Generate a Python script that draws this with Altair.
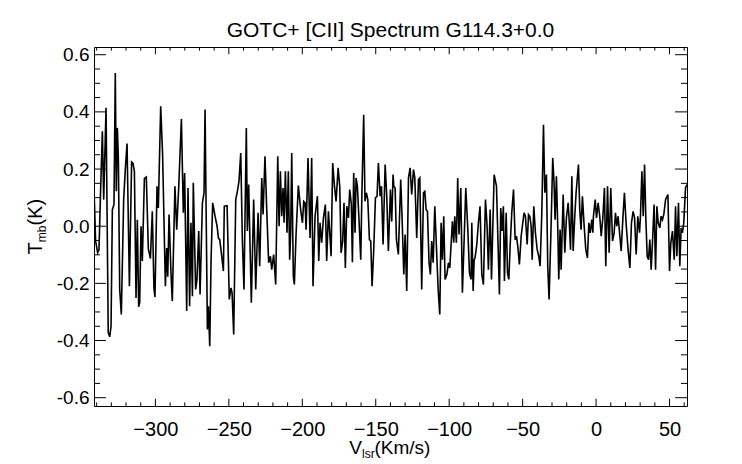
import altair as alt
import pandas as pd

# ---- data ----
vlsr = [
    -341.6, -340.7, -339.3, -338.4, -337.3, -336.1, -335.2, -333.6, -332.1, -331.1,
    -330.2, -329.3, -328.2, -327.3, -326.6, -325.9, -325.2, -324.3, -323.2, -321.6,
    -320.5, -319.3, -317.7, -316.2, -315.3, -314.3, -313.2, -312.3, -311.4, -310.7,
    -309.8, -308.9, -307.5, -306.2, -304.8, -303.4, -302.1, -301.0, -300.3, -298.9,
    -298.0, -296.4, -295.1, -293.2, -292.3, -291.6, -290.7, -289.4, -288.5, -286.7,
    -285.5, -284.1, -282.3, -281.0, -280.1, -278.7, -277.8, -276.7, -275.8, -274.8,
    -274.2,
    -272.6, -271.7, -270.5, -269.6, -268.0, -266.9, -266.2, -264.6, -263.9, -263.0,
    -262.1, -261.0, -259.4, -258.0, -257.1, -256.2, -255.1, -253.7, -253.1, -251.2,
    -249.7, -248.5, -247.8, -246.7, -245.3, -244.2, -243.1, -241.9, -240.8, -239.7,
    -238.1, -237.4, -236.5, -234.7, -233.1, -231.7, -230.1, -229.0, -227.6, -226.7,
    -225.4, -224.2, -222.9, -221.7, -220.8, -219.5, -218.1, -216.7, -215.8, -214.9,
    -214.0, -213.1, -212.4, -211.5, -210.4, -209.5, -208.6, -207.9, -207.2, -206.1,
    -205.4, -204.2, -202.7, -201.1, -199.9, -199.0, -198.1, -197.4, -196.1, -194.7,
    -193.6, -192.7, -191.3, -189.7, -188.8, -187.9, -186.8, -185.6, -184.3, -183.4,
    -182.2, -181.3, -180.4, -179.3, -178.1, -177.0, -175.6, -174.5, -173.6, -172.5,
    -171.6, -170.7, -169.7, -168.6, -167.7, -166.6, -165.9, -165.0, -164.1, -163.4,
    -162.5, -161.3, -160.2, -159.5, -158.2, -157.3, -156.4, -155.4, -154.3, -153.4,
    -152.5, -151.4, -150.2, -149.1, -148.2, -147.0, -146.1, -145.0, -143.6, -142.5,
    -141.4, -140.0, -139.1, -138.2,
    -137.7, -136.8, -135.9, -134.6, -133.0, -132.1, -130.9, -130.0, -128.9, -127.7,
    -126.6, -125.5, -124.3, -123.4, -122.1, -120.9, -120.0, -118.7, -117.5, -116.6,
    -115.7, -114.8, -113.7, -112.8, -111.9, -110.9, -109.8, -108.7, -107.5, -106.4,
    -105.5, -104.6, -103.7, -102.8, -101.6, -100.5, -99.6, -98.7, -97.8, -96.9,
    -96.2, -95.1, -94.2, -93.3, -92.1, -91.0, -89.6, -88.7, -87.3, -86.2,
    -85.1, -84.6, -83.7, -83.0, -82.4, -81.2, -80.1, -79.0, -77.8, -76.7,
    -75.3, -74.2, -73.3, -72.1, -71.2, -69.4,
    -67.8, -66.7, -65.8, -64.9, -64.0, -63.1, -62.4, -61.2, -60.3, -59.4,
    -58.5, -57.4, -56.2, -55.1, -54.2, -53.3, -52.2, -51.0, -49.9, -49.0,
    -48.1, -46.9, -46.0, -45.1, -44.2, -43.5, -42.4, -41.3, -40.1, -39.0,
    -38.1, -37.0, -35.8, -34.9, -33.8, -32.9, -32.0, -30.8, -29.5, -28.6,
    -27.9, -27.0, -26.1, -25.4, -24.5, -23.8, -22.4, -21.3, -20.2, -19.0,
    -18.1, -17.4, -16.5, -15.6, -14.5, -13.6, -12.0, -11.1, -10.2, -9.3,
    -8.1, -7.0, -5.9, -4.9, -4.0, -2.9, -2.2,
    -1.8, -0.6, 0.3, 1.4, 2.5, 3.5, 4.6, 5.7, 6.6, 7.8,
    8.9, 10.0, 11.2, 12.3, 13.2, 14.1, 15.0, 16.2, 17.1, 18.2,
    19.3, 20.5, 21.8, 23.0, 24.1, 25.2, 26.2, 27.3, 28.4, 29.6,
    30.2, 31.2, 32.1, 33.0, 33.9, 34.8, 35.7, 36.6, 37.5, 38.4,
    39.5, 40.5, 41.4, 42.3, 43.4, 44.3, 45.2, 46.1, 47.3, 48.9,
    50.0, 50.9, 52.0, 53.2, 54.1, 55.0, 56.1, 57.0, 57.9, 58.8,
    59.7, 60.9, 61.8,
]
tmb = [
    0.099, -0.052, -0.093, -0.082, 0.128, 0.332, 0.093, 0.414, -0.373, -0.387,
    -0.350, 0.058, 0.076, 0.536, 0.122, 0.344, 0.233, -0.221, -0.309, 0.093,
    0.198, 0.289, -0.210, 0.225, 0.221, 0.192, -0.251, 0.023, -0.282, -0.268,
    0.000, -0.122, 0.167, 0.172, -0.079, -0.113, 0.052, -0.216, -0.248, 0.140,
    0.064, 0.420, 0.251, -0.210, -0.076, -0.177, 0.041, -0.163, -0.262, 0.140,
    -0.012, 0.140, 0.375, 0.047, 0.186, -0.297, 0.134, -0.280, 0.012, -0.245,
    0.152,
    -0.221, -0.186, -0.017, -0.239, 0.082, 0.117, 0.408, -0.361, -0.280, -0.420,
    -0.117, 0.082, 0.035, 0.000, -0.041, -0.047, -0.093, -0.157, 0.070, 0.072,
    -0.256, -0.216, -0.233, -0.379, 0.093, 0.122, 0.157, 0.256, -0.047, -0.221,
    0.344, -0.017, 0.146, -0.268, 0.093, -0.221, 0.047, -0.140, 0.169, 0.041,
    0.245, 0.058, -0.128, -0.105, -0.152, -0.099, -0.204, 0.245, 0.000, 0.192,
    0.035, 0.134, 0.012, 0.192, -0.023, 0.192, -0.117, -0.023, 0.256, -0.175,
    -0.204, -0.023, 0.142, 0.058, 0.012, 0.087, 0.082, -0.012, 0.239, -0.041,
    0.239, -0.210, 0.035, 0.105, -0.122, 0.012, -0.058, 0.029, 0.076, -0.122,
    0.052, -0.023, -0.105, 0.221, 0.140, 0.087, 0.204, 0.140, -0.093, -0.052,
    0.082, -0.146, 0.070, 0.029, 0.128, 0.076, -0.126, 0.186, -0.023, 0.169,
    0.140, 0.012, -0.117, 0.093, 0.390, 0.087, 0.117, 0.093, -0.047, -0.052,
    -0.210, -0.087, 0.099, 0.105, 0.221, 0.105, 0.140, -0.064, 0.216, 0.105,
    -0.087, 0.128, 0.017, 0.181,
    0.140, 0.134, -0.047, -0.099, 0.163, 0.035, -0.169, -0.029, -0.227, 0.169,
    0.204, 0.111, 0.198, 0.169, -0.041, 0.163, 0.169, -0.221, 0.117, 0.122,
    0.058, 0.052, -0.128, -0.169, -0.052, -0.128, 0.070, -0.070, -0.221, -0.309,
    0.012, -0.117, 0.035, -0.186, -0.169, -0.128, -0.146, -0.064, 0.017, -0.058,
    0.035, -0.058, 0.169, -0.029, 0.134, -0.233, -0.012, 0.134, -0.012, -0.163,
    -0.186, 0.012, -0.227, -0.117, -0.111, -0.064, 0.012, 0.070, -0.169, -0.204,
    0.093, 0.000, -0.152, 0.058, -0.186, 0.180,
    0.140, -0.070, -0.239, 0.064, -0.017, 0.070, -0.192, 0.047, -0.163, -0.186,
    -0.070, 0.047, 0.128, -0.047, -0.035, -0.070, -0.134, -0.035, 0.012, 0.047,
    0.035, -0.064, 0.041, 0.035, 0.000, -0.117, 0.070, -0.023, -0.082, -0.105,
    -0.140, 0.035, 0.355, 0.117, 0.181, -0.140, -0.256, -0.035, 0.239, 0.152,
    0.023, 0.175, 0.000, -0.186, -0.012, -0.152, 0.111, -0.093, 0.029, 0.082,
    0.000, -0.082, 0.175, -0.087, 0.035, 0.117, 0.216, 0.058, -0.012, 0.105,
    0.000, -0.082, -0.111, 0.012, -0.023, 0.023, -0.023,
    0.035, 0.093, 0.029, 0.082, 0.035, -0.035, 0.029, 0.134, -0.140, 0.140,
    -0.093, 0.134, -0.052, -0.023, 0.047, 0.000, 0.035, -0.035, -0.087, 0.023,
    0.117, 0.006, -0.082, -0.146, 0.012, 0.052, 0.029, -0.099, 0.035, -0.023,
    0.035, 0.192, 0.035, 0.216, 0.023, -0.105, -0.117, -0.047, -0.152, -0.058,
    0.076, -0.152, 0.070, 0.012, -0.006, 0.035, 0.023, 0.041, 0.093, 0.111,
    -0.157, -0.058, -0.017, -0.117, 0.070, -0.105, 0.082, -0.140, -0.006, -0.023,
    0.012, 0.134, 0.146,
]

x_major = [-300, -250, -200, -150, -100, -50, 0, 50]
x_minor = [v for v in range(-340, 61, 10) if v % 50 != 0]
y_major = [-0.6, -0.4, -0.2, 0.0, 0.2, 0.4, 0.6]
y_minor = [-0.55, -0.5, -0.45, -0.35, -0.3, -0.25, -0.15, -0.1, -0.05,
           0.05, 0.1, 0.15, 0.25, 0.3, 0.35, 0.45, 0.5, 0.55]

title_text = "GOTC+ [CII] Spectrum G114.3+0.0"

W, H = 593, 359
FONT = "Liberation Sans"

xscale = alt.Scale(domain=[-341.8, 61.9], nice=False, zero=False)
yscale = alt.Scale(domain=[-0.629, 0.627], nice=False, zero=False)

x_axis = alt.Axis(title=None, values=x_major, labelFontSize=20, labelPadding=13,
                  labelFont=FONT, labelColor="black", ticks=False, domain=False,
                  grid=False, labelFlush=False)
y_axis = alt.Axis(title=None, values=y_major, labelFontSize=19, labelPadding=5,
                  labelFont=FONT, labelColor="black", ticks=False, domain=False,
                  grid=False, labelFlush=False,
                  labelExpr="replace(format(datum.value, '.1f'), '\u2212', '-')")

spec = pd.DataFrame({"v": vlsr, "t": tmb})

line = alt.Chart(spec).mark_line(color="black", strokeWidth=1.6, clip=True).encode(
    x=alt.X("v:Q", scale=xscale, axis=x_axis),
    y=alt.Y("t:Q", scale=yscale, axis=y_axis),
)

def xticks(vals, length):
    d = pd.DataFrame({"v": vals})
    b = alt.Chart(d).mark_rule(color="black", strokeWidth=1).encode(
        x=alt.X("v:Q", scale=xscale, axis=x_axis), y=alt.value(H), y2=alt.value(H - length))
    t = alt.Chart(d).mark_rule(color="black", strokeWidth=1).encode(
        x=alt.X("v:Q", scale=xscale, axis=x_axis), y=alt.value(0), y2=alt.value(length))
    return [b, t]

def yticks(vals, length):
    d = pd.DataFrame({"t": vals})
    l = alt.Chart(d).mark_rule(color="black", strokeWidth=1).encode(
        y=alt.Y("t:Q", scale=yscale, axis=y_axis), x=alt.value(0), x2=alt.value(length))
    r = alt.Chart(d).mark_rule(color="black", strokeWidth=1).encode(
        y=alt.Y("t:Q", scale=yscale, axis=y_axis), x=alt.value(W), x2=alt.value(W - length))
    return [l, r]

one = alt.Data(values=[{"a": 1}])

def label(text, x, y, size, angle=0, align="left"):
    kw = dict(font=FONT, fontSize=size, color="black", align=align, baseline="alphabetic")
    if angle:
        kw["angle"] = angle
    return alt.Chart(one).mark_text(**kw).encode(
        x=alt.value(x), y=alt.value(y), text=alt.value(text))

# title
title = label(title_text, W / 2, -10, 21, align="center")

# x-axis title V_lsr(Km/s)
xt0 = 255.3
xtitle = [
    label("V", xt0, 407, 19),
    label("lsr", xt0 + 12.7, 411, 12),
    label("(Km/s)", xt0 + 25.2, 407, 19),
]

# y-axis title T_mb(K), rotated
ys = 207.5
ytitle = [
    label("T", -52, ys, 20, angle=270),
    label("mb", -48, ys - 12.2, 12, angle=270),
    label("(K)", -52, ys - 28.9, 20, angle=270),
]

layers = [line] + xticks(x_major, 7.2) + xticks(x_minor, 3.6) \
    + yticks(y_major, 11.9) + yticks(y_minor, 6) + [title] + xtitle + ytitle

chart = alt.layer(*layers).properties(
    width=W, height=H,
    autosize=alt.AutoSizeParams(type="none"),
    padding={"left": 86, "top": 39, "right": 40, "bottom": 56},
    background="white",
).configure_view(stroke="black", strokeWidth=1)

chart.save("out.html", embed_options={"renderer": "svg", "actions": False})
